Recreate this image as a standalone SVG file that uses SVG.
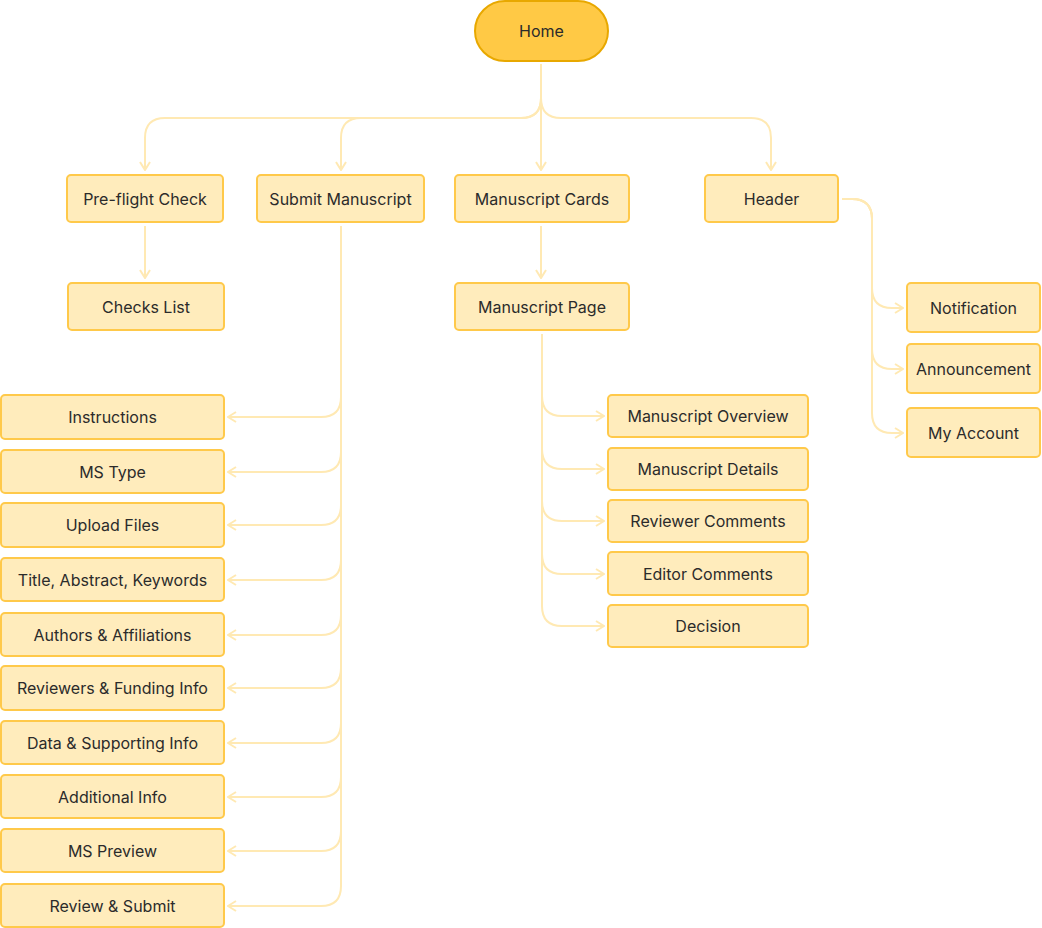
<svg xmlns="http://www.w3.org/2000/svg" width="1042" height="928" viewBox="0 0 1042 928">
<style>
.n rect{fill:#FFECBC;stroke:#FFC94A;stroke-width:2}
text{font-family:Inter,"Liberation Sans",sans-serif;font-size:16px;fill:#2b2b2b;text-anchor:middle;dominant-baseline:central}
.c path{fill:none;stroke:#FFE9B3;stroke-width:2;marker-end:url(#a)}
</style>
<defs><marker id="a" viewBox="0 0 12 12" refX="11" refY="6" markerWidth="12" markerHeight="12" markerUnits="userSpaceOnUse" orient="auto"><path d="M3,1 L11,6 L3,11" fill="none" stroke="#FFE9B3" stroke-width="2"/></marker></defs>
<g class="c">
<path d="M541,64 V98 Q541,118 521,118 H165 Q145,118 145,138 V170"/>
<path d="M541,64 V98 Q541,118 521,118 H361 Q341,118 341,138 V170"/>
<path d="M541,64 V170"/>
<path d="M541,64 V98 Q541,118 561,118 H751 Q771,118 771,138 V170"/>
<path d="M145,226 V278"/>
<path d="M541,226 V278"/>
<path d="M341,226 V397 Q341,417 321,417 H228"/>
<path d="M341,226 V452 Q341,472 321,472 H228"/>
<path d="M341,226 V505 Q341,525 321,525 H228"/>
<path d="M341,226 V560 Q341,580 321,580 H228"/>
<path d="M341,226 V615 Q341,635 321,635 H228"/>
<path d="M341,226 V668 Q341,688 321,688 H228"/>
<path d="M341,226 V723 Q341,743 321,743 H228"/>
<path d="M341,226 V777 Q341,797 321,797 H228"/>
<path d="M341,226 V831 Q341,851 321,851 H228"/>
<path d="M341,226 V886 Q341,906 321,906 H228"/>
<path d="M542,334 V396 Q542,416 562,416 H604"/>
<path d="M542,334 V449 Q542,469 562,469 H604"/>
<path d="M542,334 V501 Q542,521 562,521 H604"/>
<path d="M542,334 V554 Q542,574 562,574 H604"/>
<path d="M542,334 V606 Q542,626 562,626 H604"/>
<path d="M842,199 H852 Q872,199 872,219 V288 Q872,308 892,308 H903"/>
<path d="M842,199 H852 Q872,199 872,219 V349 Q872,369 892,369 H903"/>
<path d="M842,199 H852 Q872,199 872,219 V413 Q872,433 892,433 H903"/>
</g>
<g id="home"><rect x="475" y="1" width="133" height="60" rx="30" fill="#FFC945" stroke="#E8A800" stroke-width="2"/><text x="541.5" y="31">Home</text></g>
<g id="preflight" class="n"><rect x="67" y="175" width="156" height="47" rx="4"/><text x="145" y="199">Pre-flight Check</text></g>
<g id="submit" class="n"><rect x="257" y="175" width="167" height="47" rx="4"/><text x="340.5" y="199">Submit Manuscript</text></g>
<g id="cards" class="n"><rect x="455" y="175" width="174" height="47" rx="4"/><text x="542" y="199">Manuscript Cards</text></g>
<g id="header" class="n"><rect x="705" y="175" width="133" height="47" rx="4"/><text x="771.5" y="199">Header</text></g>
<g id="checks" class="n"><rect x="68" y="283" width="156" height="47" rx="4"/><text x="146" y="307">Checks List</text></g>
<g id="mpage" class="n"><rect x="455" y="283" width="174" height="47" rx="4"/><text x="542" y="307">Manuscript Page</text></g>
<g id="l1" class="n"><rect x="1" y="395" width="223" height="44" rx="4"/><text x="112.5" y="417">Instructions</text></g>
<g id="l2" class="n"><rect x="1" y="450" width="223" height="43" rx="4"/><text x="112.5" y="472">MS Type</text></g>
<g id="l3" class="n"><rect x="1" y="503" width="223" height="44" rx="4"/><text x="112.5" y="525">Upload Files</text></g>
<g id="l4" class="n"><rect x="1" y="558" width="223" height="43" rx="4"/><text x="112.5" y="580">Title, Abstract, Keywords</text></g>
<g id="l5" class="n"><rect x="1" y="613" width="223" height="43" rx="4"/><text x="112.5" y="635">Authors &amp; Affiliations</text></g>
<g id="l6" class="n"><rect x="1" y="666" width="223" height="44" rx="4"/><text x="112.5" y="688">Reviewers &amp; Funding Info</text></g>
<g id="l7" class="n"><rect x="1" y="721" width="223" height="43" rx="4"/><text x="112.5" y="743">Data &amp; Supporting Info</text></g>
<g id="l8" class="n"><rect x="1" y="775" width="223" height="43" rx="4"/><text x="112.5" y="797">Additional Info</text></g>
<g id="l9" class="n"><rect x="1" y="829" width="223" height="43" rx="4"/><text x="112.5" y="851">MS Preview</text></g>
<g id="l10" class="n"><rect x="1" y="884" width="223" height="43" rx="4"/><text x="112.5" y="906">Review &amp; Submit</text></g>
<g id="m1" class="n"><rect x="608" y="395" width="200" height="42" rx="4"/><text x="708" y="416">Manuscript Overview</text></g>
<g id="m2" class="n"><rect x="608" y="448" width="200" height="42" rx="4"/><text x="708" y="469">Manuscript Details</text></g>
<g id="m3" class="n"><rect x="608" y="500" width="200" height="42" rx="4"/><text x="708" y="521">Reviewer Comments</text></g>
<g id="m4" class="n"><rect x="608" y="552" width="200" height="43" rx="4"/><text x="708" y="574">Editor Comments</text></g>
<g id="m5" class="n"><rect x="608" y="605" width="200" height="42" rx="4"/><text x="708" y="626">Decision</text></g>
<g id="r1" class="n"><rect x="907" y="283" width="133" height="49" rx="4"/><text x="973.5" y="308">Notification</text></g>
<g id="r2" class="n"><rect x="907" y="344" width="133" height="49" rx="4"/><text x="973.5" y="369">Announcement</text></g>
<g id="r3" class="n"><rect x="907" y="408" width="133" height="49" rx="4"/><text x="973.5" y="433">My Account</text></g>
</svg>
